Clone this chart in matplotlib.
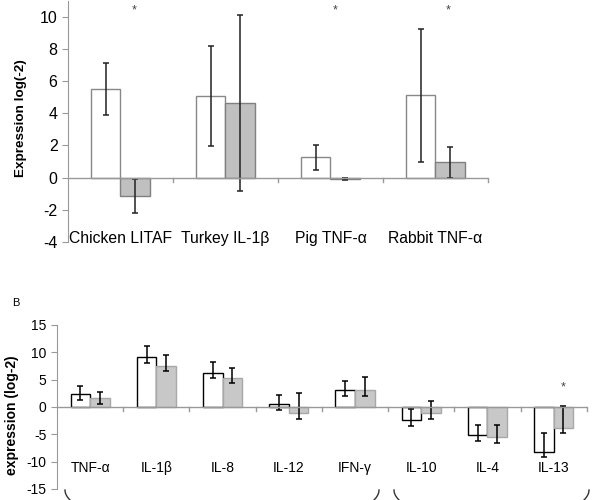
import matplotlib.pyplot as plt
import numpy as np

plt.rcParams['font.family'] = ['Liberation Sans', 'DejaVu Sans']
plt.rcParams['axes.unicode_minus'] = False

# panel A
cats_a = ["Chicken LITAF", "Turkey IL-1\u03b2", "Pig TNF-\u03b1", "Rabbit TNF-\u03b1"]
white_a = [5.5, 5.05, 1.25, 5.1]
white_a_err = [1.6, 3.1, 0.78, 4.15]
grey_a = [-1.15, 4.65, -0.1, 0.95]
grey_a_err = [1.05, 5.47, 0.05, 0.97]
star_a_x = [0.13, 2.04, 3.12]

# panel B
cats_b = ["TNF-\u03b1", "IL-1\u03b2", "IL-8", "IL-12", "IFN-\u03b3", "IL-10", "IL-4", "IL-13"]
white_b = [2.3, 9.2, 6.3, 0.5, 3.05, -2.45, -5.2, -8.15]
white_b_up = [1.6, 1.9, 1.9, 1.7, 1.75, 2.05, 1.9, 3.45]
white_b_lo = [1.0, 1.1, 0.95, 1.05, 0.95, 0.95, 1.0, 1.05]
grey_b = [1.7, 7.5, 5.25, -1.15, 3.05, -1.15, -5.55, -3.8]
grey_b_up = [1.1, 2.0, 1.85, 3.65, 2.45, 2.25, 2.25, 3.9]
grey_b_lo = [1.15, 0.9, 0.95, 1.05, 0.95, 1.05, 0.95, 0.95]
star_b_x = [7.15]

axis_col = '#999999'

fig = plt.figure(figsize=(6, 5), dpi=100)

# ---- top chart ----
ax1 = fig.add_axes([0.1133, 0.516, 0.70, 0.483])
x = np.arange(len(cats_a))
w = 0.28
ax1.bar(x - w/2, white_a, w, color='white', edgecolor='#888888', linewidth=1)
ax1.bar(x + w/2, grey_a, w, color='#c0c0c0', edgecolor='#808080', linewidth=1)
ax1.errorbar(x - w/2, white_a, yerr=white_a_err, fmt='none', ecolor='#222222',
             elinewidth=1.1, capsize=2, capthick=1.1)
ax1.errorbar(x + w/2, grey_a, yerr=grey_a_err, fmt='none', ecolor='#222222',
             elinewidth=1.1, capsize=2, capthick=1.1)
ax1.axhline(0, color=axis_col, lw=1)
for b in np.arange(0.5, len(cats_a) - 0.4, 1):
    ax1.plot([b, b], [0, -0.3], color=axis_col, lw=1, clip_on=False)
for i, c in enumerate(cats_a):
    ax1.text(i, -3.8, c, ha='center', va='center', fontsize=11.3)
for sx in star_a_x:
    ax1.text(sx, 10.4, '*', ha='center', va='center', fontsize=9, color='#444444')
ax1.set_xlim(-0.5, 3.5)
ax1.set_ylim(-4, 11)
ax1.set_yticks(np.arange(-4, 11, 2))
ax1.set_xticks([])
for s in ['top', 'right', 'bottom']:
    ax1.spines[s].set_visible(False)
ax1.spines['left'].set_color(axis_col)
ax1.tick_params(axis='y', length=4, color=axis_col, labelsize=11.5)
ax1.set_ylabel("Expression log(-2)", fontsize=9.7, fontweight='bold')
ax1.yaxis.set_label_coords(-0.097, 0.515)

# ---- bottom chart ----
ax2 = fig.add_axes([0.095, 0.022, 0.883, 0.328])
xb = np.arange(len(cats_b))
wb = 0.295
ax2.bar(xb - wb/2, white_b, wb, color='white', edgecolor='black', linewidth=1)
ax2.bar(xb + wb/2, grey_b, wb, color='#c8c8c8', edgecolor='#a8a8a8', linewidth=1)
ax2.errorbar(xb - wb/2, white_b, yerr=[white_b_lo, white_b_up], fmt='none',
             ecolor='black', elinewidth=1.1, capsize=2.2, capthick=1.1)
ax2.errorbar(xb + wb/2, grey_b, yerr=[grey_b_lo, grey_b_up], fmt='none',
             ecolor='black', elinewidth=1.1, capsize=2.2, capthick=1.1)
ax2.axhline(0, color=axis_col, lw=1)
for b in np.arange(0.5, len(cats_b), 1):
    ax2.plot([b, b], [0, -0.8], color=axis_col, lw=1, clip_on=False)
for i, c in enumerate(cats_b):
    ax2.text(i, -11.15, c, ha='center', va='center', fontsize=10)
for sx in star_b_x:
    ax2.text(sx, 3.5, '*', ha='center', va='center', fontsize=9, color='#444444')
ax2.set_xlim(-0.5, 7.5)
ax2.set_ylim(-15, 15)
ax2.set_yticks(np.arange(-15, 16, 5))
ax2.set_xticks([])
for s in ['top', 'right', 'bottom']:
    ax2.spines[s].set_visible(False)
ax2.spines['left'].set_color(axis_col)
ax2.tick_params(axis='y', length=4, color=axis_col, labelsize=10)
ax2.set_ylabel("expression (log-2)", fontsize=10, fontweight='bold')
ax2.yaxis.set_label_coords(-0.072, 0.45)

fig.text(12/600, 1 - 303/500, 'B', fontsize=8, ha='left', va='center')

# group brackets under panel B (only their tops show)
def bracket_end(x0, direction):
    t = np.linspace(0, 1, 10)
    xs = (x0 + direction * 5 * t**2) / 600
    ys = 1 - (490 + 10 * t) / 500
    fig.add_artist(plt.Line2D(xs, ys, color='#333333', lw=1))

bracket_end(65, 1)
bracket_end(379, -1)
bracket_end(394, 1)
bracket_end(589, -1)

fig.savefig('out.png', dpi=100)
